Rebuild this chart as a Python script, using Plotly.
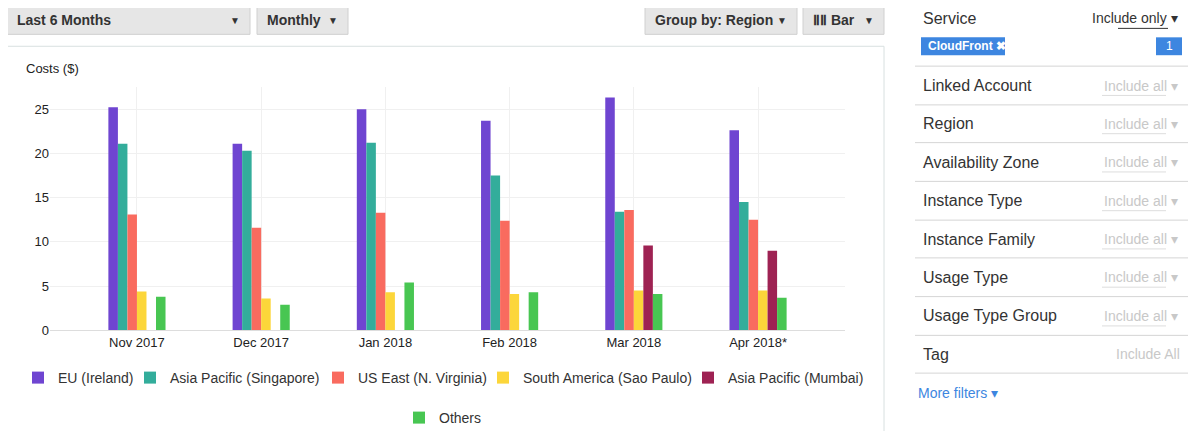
import plotly.graph_objects as go

months = ["Nov 2017", "Dec 2017", "Jan 2018", "Feb 2018", "Mar 2018", "Apr 2018*"]
eu_ireland = [25.2, 21.1, 25.0, 23.7, 26.3, 22.6]
ap_singapore = [21.1, 20.3, 21.2, 17.5, 13.4, 14.5]
us_east = [13.1, 11.6, 13.3, 12.4, 13.6, 12.5]
sa_saopaulo = [4.4, 3.6, 4.3, 4.1, 4.5, 4.5]
ap_mumbai = [0, 0, 0, 0, 9.6, 9.0]
others = [3.8, 2.9, 5.4, 4.3, 4.1, 3.7]

filters = ["Linked Account", "Region", "Availability Zone", "Instance Type",
           "Instance Family", "Usage Type", "Usage Type Group", "Tag"]

# page body adds an 8px margin, so the figure is drawn 8px smaller
O = 8
W, H = 1200 - O, 431 - O
L, T = 50 - O, 87 - O
R = W - (845 - O)
B = H - (332 - O)
PW, PH = W - L - R, H - T - B

def px(x):
    return (x - O - L) / PW

def py(y):
    return (H - B - (y - O)) / PH

FONT = "Liberation Sans, Arial, sans-serif"

series = [
    ("EU (Ireland)", eu_ireland, "#6f45d1"),
    ("Asia Pacific (Singapore)", ap_singapore, "#33ad9b"),
    ("US East (N. Virginia)", us_east, "#f96b5f"),
    ("South America (Sao Paulo)", sa_saopaulo, "#fcd63a"),
    ("Asia Pacific (Mumbai)", ap_mumbai, "#9e2253"),
    ("Others", others, "#48c652"),
]
# legend swatch positions (screen px) for each series
legend_pos = [(30, 362), (142, 362), (330, 362), (495, 362), (700, 362), (411, 402)]

fig = go.Figure()
legends = {}
for i, ((name, vals, col), (lx, ly)) in enumerate(zip(series, legend_pos)):
    key = "legend" if i == 0 else "legend%d" % (i + 1)
    fig.add_trace(go.Bar(x=months, y=vals, name=name, marker_color=col,
                         marker_line_width=0, legend=key, showlegend=True))
    legends[key] = dict(orientation="h", xref="container", yref="container",
                        x=(lx - 12 - O) / W, y=1 - (ly - O) / H, xanchor="left", yanchor="top",
                        font=dict(size=14, color="#333"), itemwidth=30,
                        entrywidth=220, entrywidthmode="pixels", bgcolor="rgba(0,0,0,0)")

shapes = []
ann = []

def box(x0, y0, x1, y1, fill, line="rgba(0,0,0,0)", lw=0):
    shapes.append(dict(type="rect", xref="paper", yref="paper", x0=px(x0), x1=px(x1),
                       y0=py(y1), y1=py(y0), fillcolor=fill, line=dict(color=line, width=lw), layer="below"))

def hline(x0, x1, y, col="#d5d5d5", w=1):
    shapes.append(dict(type="line", xref="paper", yref="paper", x0=px(x0), x1=px(x1),
                       y0=py(y), y1=py(y), line=dict(color=col, width=w)))

def text(x, y, s, size=14, col="#333", anchor="left", bold=False):
    if bold:
        s = "<b>" + s + "</b>"
    ann.append(dict(xref="paper", yref="paper", x=px(x), y=py(y), text=s, showarrow=False,
                    xanchor=anchor, yanchor="middle", font=dict(size=size, color=col, family=FONT)))

# chart panel
box(7, 46, 884, 440, "white", "#d8e0e0", 1)
text(24, 68, "Costs ($)", 13, "#222")

# top dropdowns
for x0, x1, label in [(7, 250, "Last 6 Months"), (257, 348, "Monthly"),
                      (645, 797, "Group by: Region"), (803, 884, "\u2161\u2161 Bar")]:
    box(x0, 5, x1, 34, "#e6e6e6", "#d0d0d0", 1)
    text(x0 + 8, 20, label, 14, "#333", bold=True)
    text(x1 - 8, 20, "\u25bc", 10, "#333", "right")

# right filter panel
text(921, 18, "Service", 16, "#333")
text(1180, 18, "Include only \u25be", 14, "#333", "right")
hline(1118, 1168, 28, "#333", 1)
box(921, 37, 1005, 55, "#3d86e0")
text(926, 46, "CloudFront \u2716", 12, "white", bold=True)
box(1156, 37, 1182, 55, "#3d86e0")
text(1169, 46, "1", 12, "white", "center")
ys = [66, 105, 143, 182, 221, 259, 298, 337, 375]
for y in ys:
    hline(915, 1188, y)
for i, f in enumerate(filters):
    yc = (ys[i] + ys[i + 1]) / 2
    text(921, yc, f, 16, "#333")
    if f == "Tag":
        text(1182, yc, "Include All", 14, "#c8c8c8", "right")
    else:
        text(1180, yc, "Include all \u25be", 14, "#c8c8c8", "right")
        hline(1102, 1166, yc + 10, "#dddddd", 1)
text(916, 395, "More filters \u25be", 14, "#3d86e0")

fig.update_layout(
    width=W, height=H, margin=dict(l=L, r=R, t=T, b=B),
    paper_bgcolor="#ffffff", plot_bgcolor="white",
    barmode="group", bargap=0.54, bargroupgap=0,
    font=dict(family=FONT, size=12, color="#222"),
    shapes=shapes, annotations=ann,
    xaxis=dict(range=[-0.7, 5.7], showgrid=True, gridcolor="#f0f0f0", ticks="", showline=True,
               linecolor="#dddddd", tickfont=dict(size=13)),
    yaxis=dict(range=[0, 27.5], tickvals=[0, 5, 10, 15, 20, 25], gridcolor="#f0f0f0",
               zeroline=False, ticks="", tickfont=dict(size=13)),
    **legends,
)

fig.write_html("out.html")
